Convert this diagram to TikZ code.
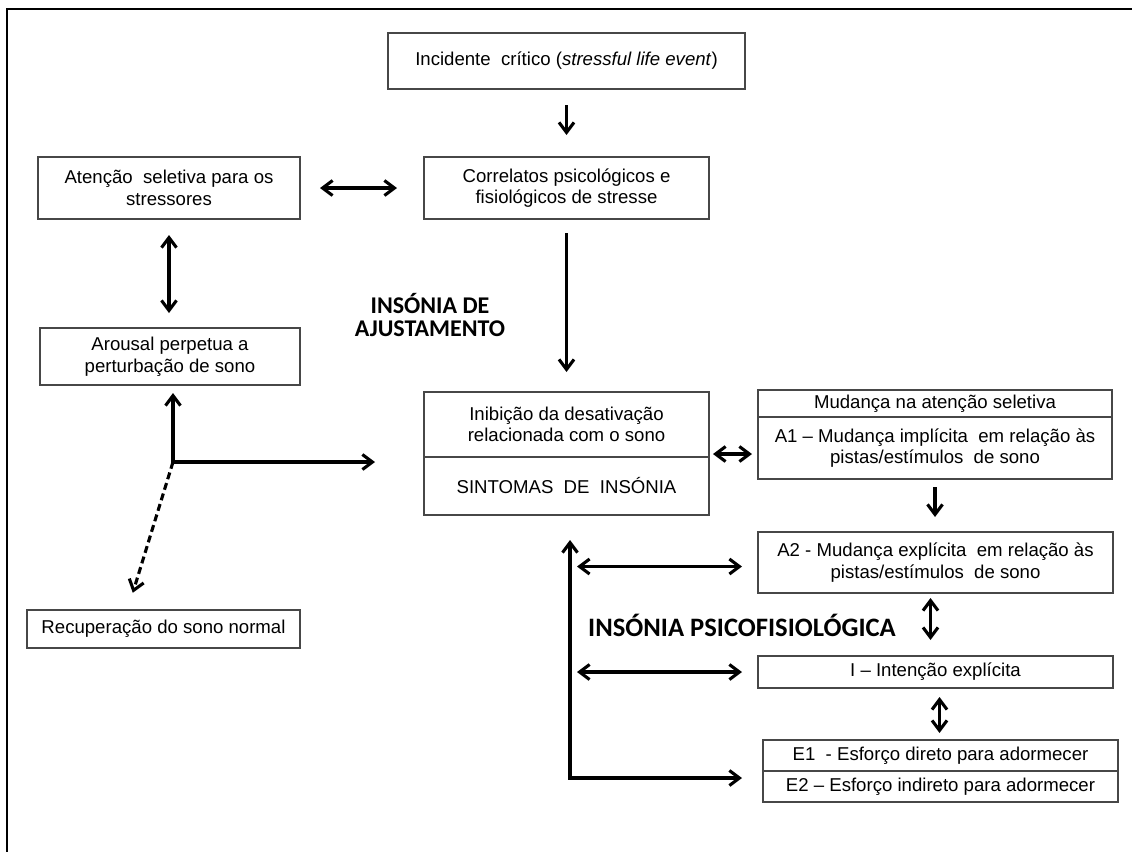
\documentclass[tikz,border=0pt]{standalone}
\usepackage{fontspec}
\setmainfont{Liberation Sans}
\newfontfamily\headfont{Carlito}
\usetikzlibrary{arrows.meta, positioning, calc}

\begin{document}
\begin{tikzpicture}[x=1pt, y=-1pt,
    box/.style={rectangle, draw=black!72, line width=1.8pt, align=center, inner sep=0pt, outer sep=0pt, font=\fontsize{18.6}{21.5}\selectfont},
    heading/.style={align=center, inner sep=0pt, font=\headfont\bfseries\fontsize{24}{22.5}\selectfont},
    arr/.style={-{Straight Barb[length=10pt, width=15pt]}, line width=3.1pt},
    dbl/.style={{Straight Barb[length=10pt, width=15pt]}-{Straight Barb[length=10pt, width=15pt]}, line width=3.1pt},
]
    \useasboundingbox (0,0) rectangle (1132,852);
    \draw[line width=2pt] (1132,9) -- (7,9) -- (7,852);

    % adjustment insomnia
    \node[box, minimum width=357, minimum height=56] (inc) at (566.5,61) {Incidente\ \ crítico (\textit{stressful life event})};
    \node[box, minimum width=285, minimum height=62] (corr) at (566.5,188) {Correlatos psicológicos e\\fisiológicos de stresse};
    \node[box, minimum width=262, minimum height=62] (aten) at (169,188) {Atenção\ \ seletiva para os\\stressores};
    \node[box, minimum width=260, minimum height=57] (arous) at (170,356.5) {Arousal perpetua a\\perturbação de sono};
    \node[box, minimum width=273, minimum height=38] (recup) at (163.5,629) {Recuperação do sono normal};
    \node[box, minimum width=285, minimum height=65] (inibA) at (566.5,424.5) {Inibição da desativação\\relacionada com o sono};
    \node[box, minimum width=285, minimum height=58, below=0pt of inibA] (inibB) {SINTOMAS\ \ DE\ \ INSÓNIA};
    \node[heading] (hAj) at (430,315) {INSÓNIA DE\\AJUSTAMENTO};

    % psychophysiological insomnia
    \node[box, minimum width=354, minimum height=27] (mudA) at (935,403.5) {Mudança na atenção seletiva};
    \node[box, minimum width=354, minimum height=62, below=0pt of mudA] (mudB) {A1 – Mudança implícita\ \ em relação às\\pistas/estímulos\ \ de sono};
    \node[box, minimum width=355, minimum height=61] (a2) at (935.5,562.5) {A2 - Mudança explícita\ \ em relação às\\pistas/estímulos\ \ de sono};
    \node[box, minimum width=355, minimum height=32] (intn) at (935.5,672) {I – Intenção explícita};
    \node[box, minimum width=355, minimum height=31] (eA) at (940.5,755.5) {E1\ \ - Esforço direto para adormecer};
    \node[box, minimum width=355, minimum height=31, below=0pt of eA] (eB) {E2 – Esforço indireto para adormecer};
    \node[heading, anchor=west, font=\headfont\bfseries\fontsize{26.6}{26}\selectfont] (hPsi) at (588,625) {INSÓNIA PSICOFISIOLÓGICA};

    \coordinate (J) at (173,462);
    \coordinate (corner) at (570,778);
    \coordinate (a2in) at ([yshift=-4pt]a2.west);

    \draw[arr, shorten <=16pt, shorten >=22pt] (inc) -- (corr);
    \draw[dbl, shorten <=20pt, shorten >=27pt] (aten) -- (corr);
    \draw[dbl, shorten <=16pt, shorten >=15pt] (aten) -- (aten |- arous.north);
    \draw[arr, shorten <=14pt, shorten >=20pt] (corr) -- (inibA);
    \draw[dbl, shorten <=8pt, shorten >=49pt] (J |- arous.south) -- (J) -- (J -| inibA.west);
    \draw[arr, dashed, dash pattern=on 7pt off 4pt, shorten >=18pt] (J) -- ([xshift=-36pt]recup.north);
    \draw[dbl, shorten <=4pt, shorten >=6pt] ([yshift=3pt]inibA.south east) -- ([yshift=3pt]inibA.south east -| mudB.west);
    \draw[arr, shorten <=8pt, shorten >=15pt] (mudB) -- (mudB |- a2.north);
    \draw[dbl, shorten <=5pt, shorten >=16pt] ([xshift=-5pt]a2.south) -- ([xshift=-5pt]intn.north);
    \draw[dbl, shorten <=9pt, shorten >=7pt] ([xshift=4pt]intn.south) -- ([xshift=4pt]intn.south |- eA.north);
    \draw[dbl, shorten <=25pt, shorten >=21pt] (corner |- inibB.south) -- (corner) -- (corner -| eB.west);
    \draw[dbl, shorten <=7pt, shorten >=16pt] (corner |- a2in) -- (a2in);
    \draw[dbl, shorten <=7pt, shorten >=16pt] (corner |- intn.west) -- (intn.west);
\end{tikzpicture}
\end{document}
